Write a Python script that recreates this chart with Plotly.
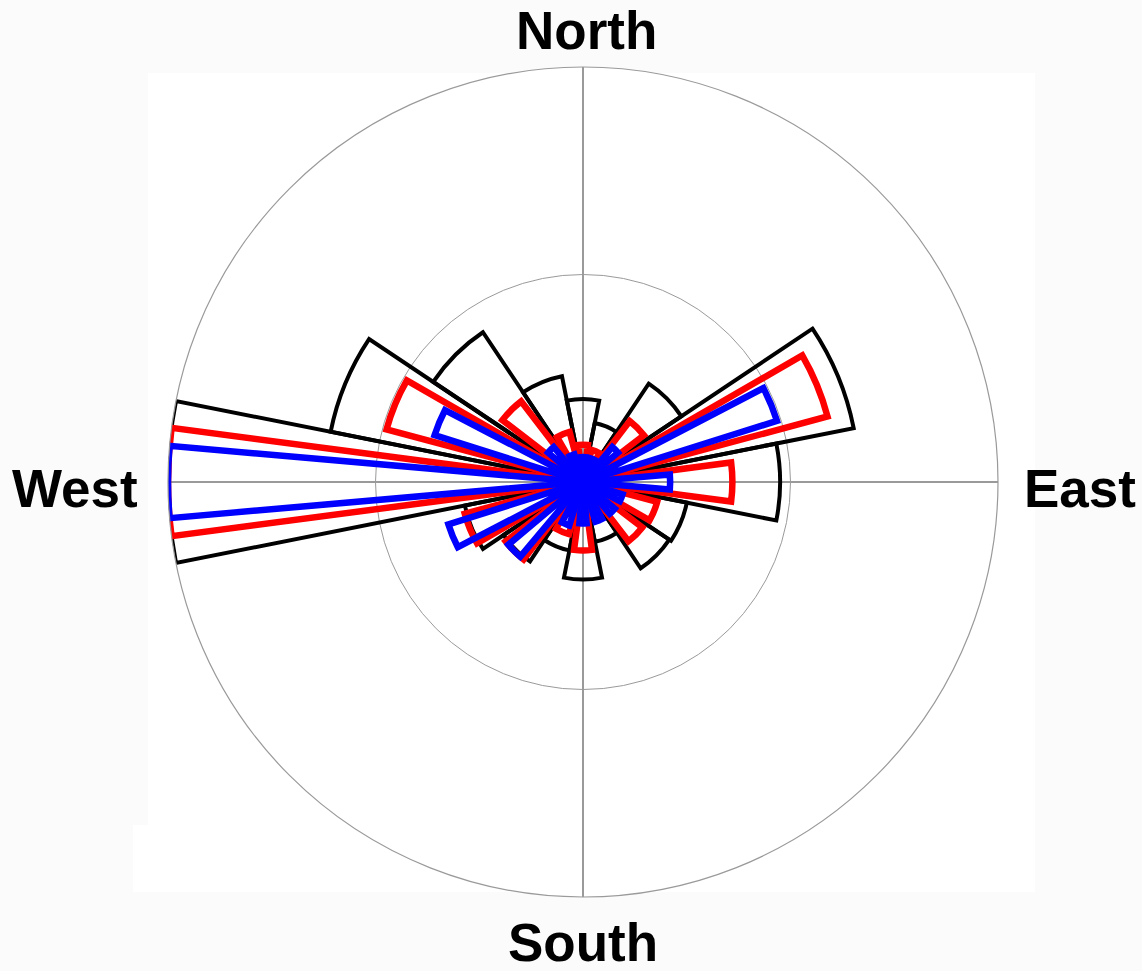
import plotly.graph_objects as go

directions = ["N", "NNE", "NE", "ENE", "E", "ESE", "SE", "SSE",
              "S", "SSW", "SW", "WSW", "W", "WNW", "NW", "NNW"]
theta_deg = [0, 22.5, 45, 67.5, 90, 112.5, 135, 157.5,
             180, 202.5, 225, 247.5, 270, 292.5, 315, 337.5]

black_vals = [0.20, 0.145, 0.285, 0.665, 0.475, 0.255, 0.25, 0.147,
              0.235, 0.168, 0.23, 0.29, 1.0, 0.62, 0.434, 0.26]
red_vals = [0.09, 0.08, 0.185, 0.61, 0.36, 0.185, 0.18, 0.08,
            0.165, 0.13, 0.235, 0.295, 1.0, 0.49, 0.245, 0.125]
blue_vals = [0.06, 0.06, 0.11, 0.49, 0.21, 0.10, 0.10, 0.10,
             0.10, 0.11, 0.235, 0.34, 1.0, 0.375, 0.11, 0.07]

compass_text = ["North", "East", "South", "West"]

series = [
    ("black", black_vals, "black", 22.5, 4),
    ("red", red_vals, "#ff0000", 15, 6.5),
    ("blue", blue_vals, "#0000ff", 10, 6.5),
]

fig = go.Figure()
for name, vals, color, width, lw in series:
    fig.add_trace(go.Barpolar(
        r=vals, theta=theta_deg, width=[width] * len(vals), name=name,
        marker=dict(color="rgba(0,0,0,0)", line=dict(color=color, width=lw)),
        showlegend=False,
    ))

L, R, T, B = 168, 144, 67, 74
W, H = 1142, 971
pw = W - L - R
ph = H - T - B

def px(x):
    return (x - L) / pw

def py(y):
    return (H - B - y) / ph

fig.add_shape(type="rect", xref="paper", yref="paper", layer="below",
              x0=px(148), x1=px(1035), y0=py(892), y1=py(73),
              fillcolor="white", line=dict(width=0))
fig.add_shape(type="rect", xref="paper", yref="paper", layer="below",
              x0=px(133), x1=px(148), y0=py(892), y1=py(825),
              fillcolor="white", line=dict(width=0))

label_pos = [(586, 30), (1080, 489), (583, 942), (75, 489)]
for text, (lx, ly) in zip(compass_text, label_pos):
    fig.add_annotation(text=text, x=px(lx), y=py(ly), xref="paper", yref="paper",
                       xanchor="center", yanchor="middle", showarrow=False,
                       font=dict(family="Liberation Sans, Arial", size=53,
                                 color="black", weight="bold"))

fig.update_layout(
    width=W, height=H,
    margin=dict(l=L, r=R, t=T, b=B),
    paper_bgcolor="#fbfbfb",
    polar=dict(
        bgcolor="white",
        barmode="overlay",
        domain=dict(x=[0, 1], y=[0, 1]),
        radialaxis=dict(range=[0, 1], tickvals=[0.5, 1.0], showticklabels=False,
                        ticks="", showline=False, gridcolor="#9a9a9a", gridwidth=1.2),
        angularaxis=dict(rotation=90, direction="clockwise",
                         tickmode="array", tickvals=[0, 90, 180, 270],
                         showticklabels=False, ticks="",
                         showgrid=True, gridcolor="#9a9a9a", gridwidth=2,
                         showline=True, linecolor="#9a9a9a", linewidth=1.2),
    ),
)

fig.write_html("out.html", config={"displayModeBar": False},
               post_script="document.body.style.margin='0px';")
